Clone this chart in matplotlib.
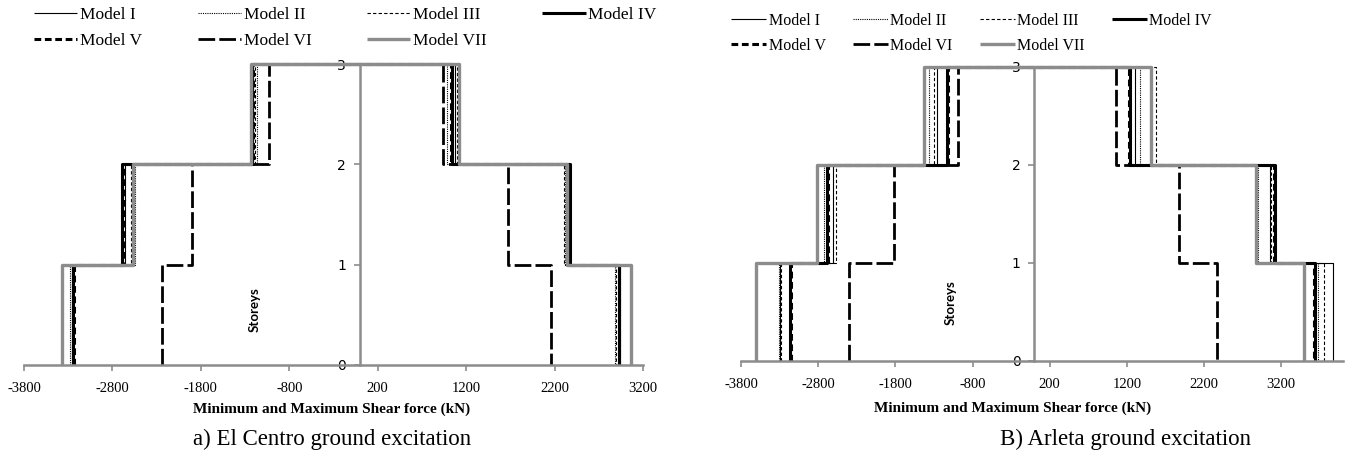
import numpy as np
import matplotlib.pyplot as plt

# Storey shear envelopes, 3-storey frame, seven models
models = ['Model I', 'Model II', 'Model III', 'Model IV', 'Model V', 'Model VI', 'Model VII']
storeys = [0, 1, 2, 3]
ticks = [-3800, -2800, -1800, -800, 200, 1200, 2200, 3200]

# min / max shear (kN) for storey 1, 2, 3 -- El Centro
centro_min = [
    [-3262, -2660, -1205],
    [-3280, -2544, -1164],
    [-3255, -2590, -1185],
    [-3249, -2695, -1221],
    [-3240, -2685, -1212],
    [-2235, -1903, -1029],
    [-3374, -2570, -1236],
]
centro_max = [
    [2940, 2345, 1070],
    [2878, 2320, 989],
    [2900, 2310, 1095],
    [2923, 2376, 1038],
    [2930, 2368, 1025],
    [2158, 1672, 943],
    [3067, 2339, 1124],
]

# min / max shear (kN) for storey 1, 2, 3 -- Arleta
arleta_min = [
    [-3290, -2614, -1265],
    [-3304, -2721, -1360],
    [-3280, -2575, -1300],
    [-3165, -2680, -1127],
    [-3155, -2670, -1115],
    [-2401, -1814, -993],
    [-3606, -2820, -1425],
]
arleta_max = [
    [3864, 3050, 1300],
    [3678, 2901, 1368],
    [3752, 3073, 1572],
    [3635, 3121, 1239],
    [3625, 3110, 1228],
    [2370, 1878, 1058],
    [3493, 2871, 1507],
]

# line styles: (colour, width, dash pattern)
styles = [
    ('black', 0.8, None),
    ('black', 0.8, (1, 1)),
    ('black', 0.8, (3, 2)),
    ('black', 2.2, None),
    ('black', 2.2, (2.2, 1.2)),
    ('black', 2.0, (6, 1.5)),
    ('#8c8c8c', 2.4, None),
]

W, H = 1354, 459
fig = plt.figure(figsize=(W / 100, H / 100), dpi=100)

serif = 'Liberation Serif'
sans = 'Lato'


def step_profile(mins, maxs):
    # walk up the min side, then down the max side
    vals = list(mins) + list(maxs[::-1])
    x = np.repeat(vals, 2)
    y = []
    for lo, hi in zip(storeys[:-1], storeys[1:]):
        y += [lo, hi]
    for lo, hi in zip(storeys[:-1][::-1], storeys[1:][::-1]):
        y += [hi, lo]
    return x, y


def draw(rect, mins, maxs, xmax, storey_pos):
    ax = fig.add_axes(rect)
    lines = []
    for i, m in enumerate(models):
        c, lw, d = styles[i]
        x, y = step_profile(mins[i], maxs[i])
        ln, = ax.plot(x, y, color=c, lw=lw, label=m, clip_on=False,
                      solid_capstyle='butt', dash_capstyle='butt')
        if d is not None:
            ln.set_dashes(d)
        lines.append(ln)
    ax.set_xlim(-3800, xmax)
    ax.set_ylim(0, 3)
    ax.set_xticks(ticks)
    ax.set_xticklabels([str(t) for t in ticks], fontfamily=serif, fontsize=10.5)
    ax.set_yticks(storeys)
    ax.set_yticklabels([str(s) for s in storeys], fontfamily=sans, fontsize=11)
    for s in ['top', 'right']:
        ax.spines[s].set_visible(False)
    ax.spines['left'].set_position(('data', 0))
    ax.spines['left'].set_color('#8c8c8c')
    ax.spines['left'].set_linewidth(1.8)
    ax.spines['bottom'].set_color('#8c8c8c')
    ax.spines['bottom'].set_linewidth(1.8)
    ax.tick_params(axis='x', direction='out', length=4, width=1.2, color='#8c8c8c', pad=8)
    ax.tick_params(axis='y', direction='out', length=4, width=1.2, color='#8c8c8c', pad=6)
    ax.patch.set_alpha(0)
    ax.text(storey_pos[0], storey_pos[1], 'Storeys', rotation=90, fontfamily=sans,
            fontweight='bold', fontsize=9.5, ha='center', va='center')
    return ax, lines


ax1, l1 = draw([24 / W, 1 - 365 / H, (643 - 24) / W, (365 - 64) / H],
               centro_min, centro_max, 3200, (-1190, 0.55))
ax2, l2 = draw([741 / W, 1 - 361 / H, (1343 - 741) / W, (361 - 66.7) / H],
               arleta_min, arleta_max, 4000, (-1090, 0.59))

# legends filled row-wise: reorder for matplotlib's column filling
order = [0, 4, 1, 5, 2, 6, 3]
fig.legend([l1[i] for i in order], [models[i] for i in order], ncol=4,
           loc='upper left', bbox_to_anchor=(34 / W, 1 - 7 / H), frameon=False,
           prop={'family': serif, 'size': 12.5}, handlelength=2.5, handletextpad=0.15,
           columnspacing=3.2, labelspacing=0.55, borderpad=0, borderaxespad=0)
fig.legend([l2[i] for i in order], [models[i] for i in order], ncol=4,
           loc='upper left', bbox_to_anchor=(731 / W, 1 - 13 / H), frameon=False,
           prop={'family': serif, 'size': 11.5}, handlelength=2.2, handletextpad=0.15,
           columnspacing=1.7, labelspacing=0.55, borderpad=0, borderaxespad=0)

xlab = 'Minimum and Maximum Shear force (kN)'
fig.text(332 / W, 1 - 409 / H, xlab, ha='center', va='center', fontfamily=serif,
         fontweight='bold', fontsize=11)
fig.text(1013 / W, 1 - 408 / H, xlab, ha='center', va='center', fontfamily=serif,
         fontweight='bold', fontsize=11)
fig.text(332 / W, 1 - 439 / H, 'a) El Centro ground excitation', ha='center', va='center',
         fontfamily=serif, fontsize=16.5)
fig.text(1125 / W, 1 - 439 / H, 'B) Arleta ground excitation', ha='center', va='center',
         fontfamily=serif, fontsize=16.5)

fig.savefig('out.png', dpi=100)
